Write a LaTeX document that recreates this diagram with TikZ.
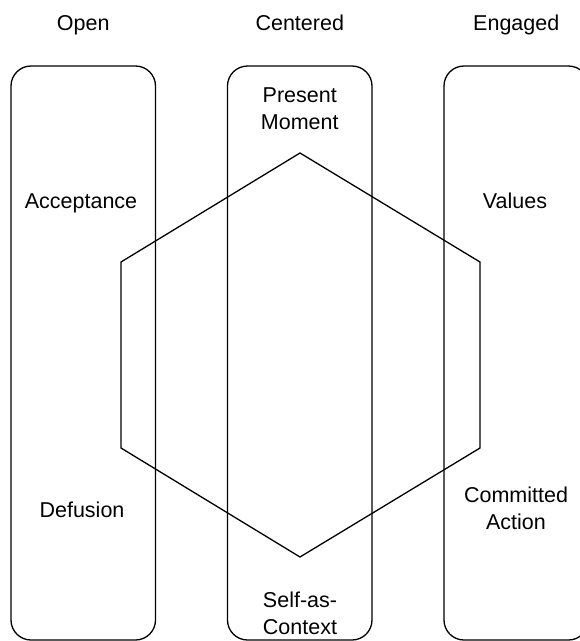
\documentclass[tikz,border=0pt]{standalone}
\usepackage{fontspec}
\setmainfont{Liberation Sans}
\begin{document}
\begin{tikzpicture}[x=1pt,y=-1pt,
  column/.style={draw=black, line width=1.3pt, rounded corners=20pt,
    inner sep=0pt, minimum width=144.5pt, minimum height=574pt},
  label/.style={align=center, inner sep=0pt, text=black,
    font=\fontsize{21.5}{27}\selectfont},
  hexline/.style={draw=black, line width=1.3pt, line join=miter}]
  \useasboundingbox (0,0) rectangle (580,641);

  % three columns
  \node[column] (open)     at (83.25,353) {};
  \node[column] (centered) at (299.75,353) {};
  \node[column] (engaged)  at (516.25,353) {};

  % column headings (placed on their baselines)
  \node[label, anchor=base] (hOpen)     at (83.25,30.5) {Open};
  \node[label, anchor=base] (hCentered) at (299.75,30.5) {Centered};
  \node[label, anchor=base] (hEngaged)  at (516.25,30.5) {Engaged};

  % hexaflex
  \coordinate (h1) at (300,153);
  \coordinate (h2) at (480,262);
  \coordinate (h3) at (480,448);
  \coordinate (h4) at (300,557);
  \coordinate (h5) at (121,448);
  \coordinate (h6) at (121,262);
  \draw[hexline] (h1) -- (h2) -- (h3) -- (h4) -- (h5) -- (h6) -- cycle;

  % processes
  \node[label] (present)    at (299.75,109) {Present\\Moment};
  \node[label, anchor=base] (acceptance) at (81,208) {Acceptance};
  \node[label, anchor=base] (values)     at (515,208) {Values};
  \node[label, anchor=base] (defusion)   at (82,517) {Defusion};
  \node[label] (committed)  at (516,508) {Committed\\Action};
  \node[label] (selfctx)    at (300,613) {Self-as-\\Context};
\end{tikzpicture}
\end{document}
